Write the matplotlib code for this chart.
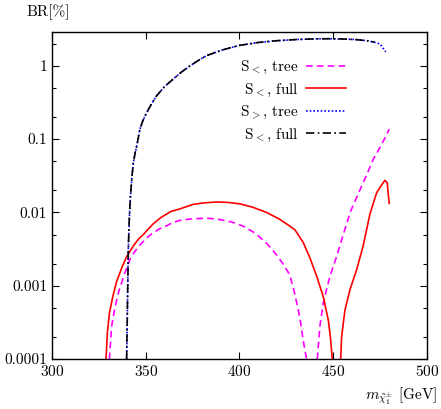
import numpy as np
import matplotlib
matplotlib.use('Agg')
import matplotlib.pyplot as plt
from matplotlib.ticker import FixedLocator, FuncFormatter, NullLocator

plt.rcParams['font.family'] = 'serif'
plt.rcParams['font.serif'] = ['cmr10']
plt.rcParams['mathtext.fontset'] = 'cm'
plt.rcParams['axes.formatter.use_mathtext'] = True
plt.rcParams['font.size'] = 11

# S<, tree (two branches)
m_tree_a = [330.6, 331.8, 333.6, 335.9, 338.9, 341.6, 344.0, 346.9, 350.5, 354.0, 357.5, 361.2, 364.5, 368.3,
            373.0, 378.9, 384.0, 389.6, 396.0, 402.0, 408.5, 414.5, 420.0, 423.5, 426.9, 429.6, 432.3,
            434.0, 435.8]
br_tree_a = [1e-4, 2.8e-4, 5.2e-4, 8.9e-4, 1.5e-3, 2.3e-3, 2.9e-3, 3.6e-3, 4.5e-3, 5.3e-3, 6.0e-3, 6.6e-3, 7.3e-3,
             7.8e-3, 8.1e-3, 8.3e-3, 8.3e-3, 8.0e-3, 7.4e-3, 6.5e-3, 5.2e-3, 3.8e-3, 2.6e-3, 1.95e-3, 1.4e-3,
             7.6e-4, 3.6e-4, 1.8e-4, 1e-4]
m_tree_b = [441.5, 442.9, 444.7, 446.5, 448.3, 451.8, 455.4, 459.3, 462.5, 466.0, 469.0, 471.4, 473.8,
            475.8, 478.0, 479.9]
br_tree_b = [1e-4, 2.8e-4, 5.8e-4, 9.0e-4, 1.35e-3, 2.5e-3, 5.0e-3, 1.04e-2, 1.6e-2, 2.55e-2, 3.8e-2, 5.3e-2,
             6.8e-2, 8.5e-2, 1.08e-1, 1.37e-1]

# S<, full (two branches)
m_full_a = [328.8, 329.5, 330.6, 332.4, 334.5, 337.2, 339.8, 343.4, 346.0, 348.7, 351.5, 354.0, 358.0, 362.0,
            362.9, 368.3, 375.4, 381.0, 387.8, 394.0, 400.3, 407.0, 414.5, 421.0, 426.9, 429.6, 434.0,
            437.6, 441.2, 444.7, 447.4, 448.6, 449.5]
br_full_a = [1e-4, 2.25e-4, 4.2e-4, 7.1e-4, 1.15e-3, 1.75e-3, 2.5e-3, 3.5e-3, 4.3e-3, 5.0e-3, 6.0e-3, 7.0e-3,
             8.5e-3, 9.8e-3, 1.02e-2, 1.12e-2, 1.29e-2, 1.35e-2, 1.39e-2, 1.37e-2, 1.31e-2, 1.18e-2, 1.0e-2,
             8.2e-3, 6.5e-3, 5.8e-3, 3.9e-3, 2.4e-3, 1.35e-3, 7.1e-4, 3.4e-4, 1.9e-4, 1e-4]
m_full_b = [454.0, 454.5, 456.3, 459.0, 462.5, 466.0, 469.6, 473.2, 475.5, 477.6, 478.8, 479.9]
br_full_b = [1e-4, 2.0e-4, 4.7e-4, 8.9e-4, 1.65e-3, 3.5e-3, 9.5e-3, 1.86e-2, 2.3e-2, 2.74e-2, 2.55e-2, 1.33e-2]

# S>, tree and S<, full (upper curve)
m_up = [339.8, 340.2, 340.7, 341.2, 341.8, 342.6, 343.4, 344.3, 345.2, 346.9, 348.5, 350.5, 353.0, 355.8,
        360.0, 364.7, 369.0, 373.6, 378.0, 382.5, 391.0, 400.0, 410.0, 420.0, 430.0, 440.0, 447.0, 455.0,
        462.0, 468.0, 472.0, 475.0, 478.0]
br_up = [1e-4, 4.7e-4, 3.2e-3, 8.0e-3, 1.6e-2, 3.0e-2, 4.8e-2, 6.4e-2, 8.1e-2, 1.37e-1, 1.8e-1, 2.3e-1, 3.0e-1,
         3.9e-1, 5.2e-1, 6.6e-1, 8.2e-1, 1.0, 1.18, 1.38, 1.65, 1.9, 2.08, 2.2, 2.28, 2.33, 2.34, 2.32, 2.28,
         2.2, 2.1, 1.98, 1.55]

labels = [r'$\mathrm{S}_<$, tree', r'$\mathrm{S}_<$, full', r'$\mathrm{S}_>$, tree', r'$\mathrm{S}_<$, full']

fig = plt.figure(figsize=(4.41, 4.09), dpi=100)
ax = fig.add_axes([0.118, 0.122, 0.850, 0.800])

l1, = ax.plot(m_tree_a, br_tree_a, color='#ff00ff', lw=1.2, ls=(0, (4, 2.5)), label=labels[0])
ax.plot(m_tree_b, br_tree_b, color='#ff00ff', lw=1.2, ls=(0, (4, 2.5)))
l2, = ax.plot(m_full_a, br_full_a, color='#ff0000', lw=1.2, label=labels[1])
ax.plot(m_full_b, br_full_b, color='#ff0000', lw=1.2)
l3, = ax.plot(m_up, br_up, color='#0000ff', lw=1.2, ls=(0, (1, 1.2)), label=labels[2])
l4, = ax.plot(m_up[:-2], br_up[:-2], color='black', lw=1.2, ls=(0, (5, 2, 1, 2)), label=labels[3])

ax.set_yscale('log')
ax.set_xlim(300, 500)
ax.set_ylim(1e-4, 2.9)

ax.xaxis.set_major_locator(FixedLocator([300, 350, 400, 450, 500]))
ax.xaxis.set_minor_locator(NullLocator())
ax.yaxis.set_major_locator(FixedLocator([1e-4, 1e-3, 1e-2, 1e-1, 1]))
minors = [k * 10.0 ** e for e in range(-4, 1) for k in (2, 5)]
ax.yaxis.set_minor_locator(FixedLocator(minors))
ax.yaxis.set_major_formatter(FuncFormatter(lambda v, p: {1e-4: '0.0001', 1e-3: '0.001', 1e-2: '0.01',
                                                          1e-1: '0.1', 1: '1'}.get(v, '')))
ax.yaxis.set_minor_formatter(FuncFormatter(lambda v, p: ''))
ax.tick_params(which='both', direction='in', top=True, right=True, width=0.8)
ax.tick_params(which='major', length=5)
ax.tick_params(which='minor', length=3)
for s in ax.spines.values():
    s.set_linewidth(1.0)

leg = ax.legend(handles=[l1, l2, l3, l4], loc='upper right', bbox_to_anchor=(0.80, 0.935),
                frameon=False, markerfirst=False, handlelength=2.6, handletextpad=0.5,
                labelspacing=0.35, borderaxespad=0)

fig.text(26 / 441, 1 - 12 / 409, 'BR[%]', ha='left', va='center')
fig.text(437 / 441, 1 - 396 / 409, r'$m_{\tilde{\chi}_1^{\pm}}$ [GeV]', ha='right', va='center')

fig.savefig('out.png', dpi=100)
